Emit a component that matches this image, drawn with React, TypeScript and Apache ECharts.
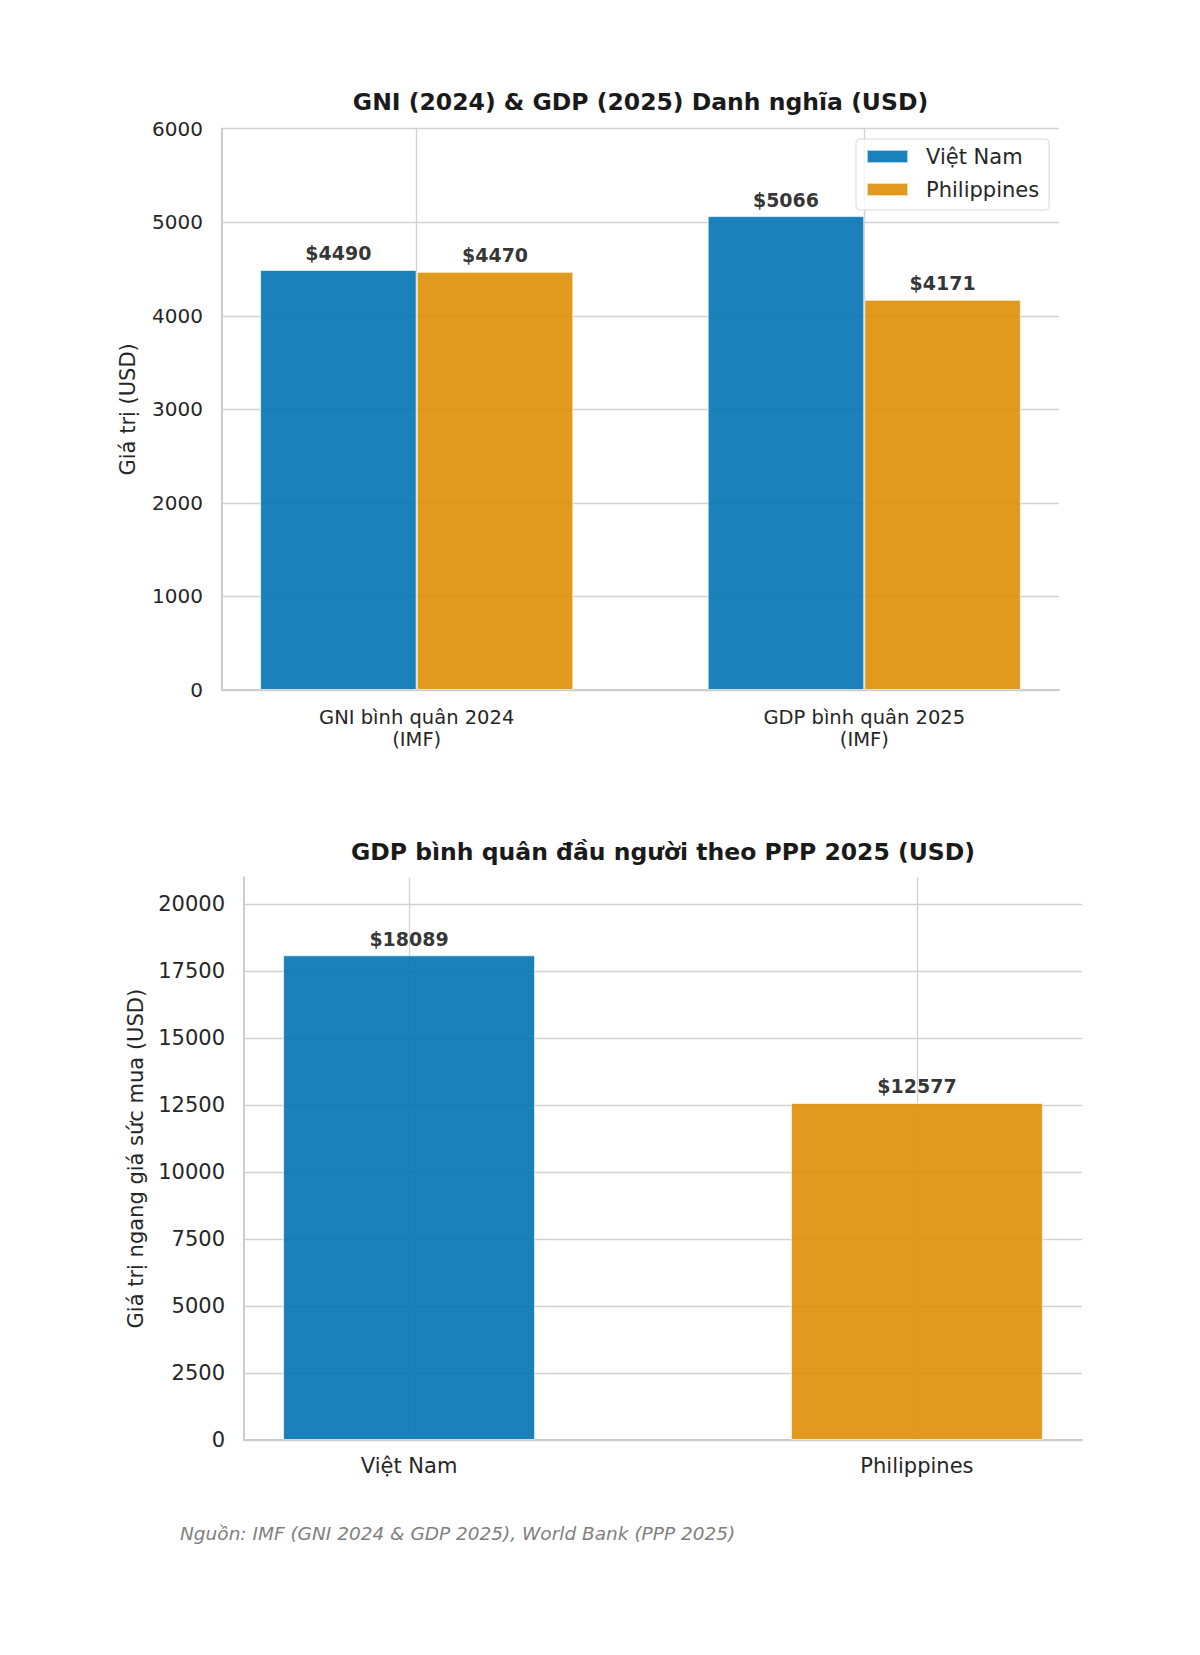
import React, { useEffect, useRef } from "react";
import * as echarts from "echarts";

// ---- data ----
const nominalCategories = ["GNI bình quân 2024\n(IMF)", "GDP bình quân 2025\n(IMF)"];
const countries = ["Việt Nam", "Philippines"];
const vietnamNominal = [4490, 5066];
const philippinesNominal = [4470, 4171];
const nominalTicks = [0, 1000, 2000, 3000, 4000, 5000, 6000];

const pppCategories = ["Việt Nam", "Philippines"];
const pppValues = [18089, 12577];
const pppTicks = [0, 2500, 5000, 7500, 10000, 12500, 15000, 17500, 20000];

const titleNominal = "GNI (2024) & GDP (2025) Danh nghĩa (USD)";
const titlePPP = "GDP bình quân đầu người theo PPP 2025 (USD)";
const yNameNominal = "Giá trị (USD)";
const yNamePPP = "Giá trị ngang giá sức mua (USD)";
const sourceText = "Nguồn: IMF (GNI 2024 & GDP 2025), World Bank (PPP 2025)";

const colors = ["#0173B2", "#DE8F05"];

// ---- styles ----
const FONT = "DejaVu Sans";
const TEXT = "#262626";
const SPINE = "#cccccc";
const GRIDC = "#d2d2d2";

export default function App() {
  const ref = useRef<HTMLDivElement>(null);

  useEffect(() => {
    document.body.style.margin = "0";
    if (!ref.current) return;
    const chart = echarts.init(ref.current, undefined, { renderer: "svg" });

    const groupWidth = 0.35;
    const pppWidth = 0.5;

    const labelStyle = (distance: number) => ({
      show: true,
      position: "top",
      distance,
      formatter: (p: any) => "$" + p.value[1],
      fontFamily: FONT,
      fontWeight: "bold",
      fontSize: 19,
      color: "#1a1a1a",
    });

    const option: any = {
      animation: false,
      backgroundColor: "#ffffff",
      textStyle: { fontFamily: FONT },
      grid: [
        { left: 222, top: 128.7, width: 837, height: 561.3, outerBoundsMode: "none" },
        { left: 244, top: 877.3, width: 838, height: 562.7, outerBoundsMode: "none" },
      ],
      legend: {
        data: countries,
        orient: "vertical",
        left: 856,
        top: 139,
        itemWidth: 41,
        itemHeight: 13,
        itemGap: 12,
        icon: "rect",
        padding: [7, 10, 10, 10],
        borderColor: "#d9d9d9",
        borderWidth: 1,
        borderRadius: 4,
        backgroundColor: "rgba(255,255,255,0.8)",
        textStyle: { fontFamily: FONT, fontSize: 21, color: TEXT, padding: [0, 0, 0, 13] },
      },
      xAxis: [
        {
          gridIndex: 0,
          type: "value",
          min: -0.435,
          max: 1.435,
          axisLine: { show: true, onZero: false, lineStyle: { color: SPINE, width: 2 } },
          axisTick: { show: false, customValues: [0, 1] },
          axisLabel: {
            customValues: [0, 1],
            formatter: (v: number) => nominalCategories[Math.round(v)] ?? "",
            fontFamily: FONT,
            fontSize: 19.5,
            lineHeight: 22,
            margin: 16,
            color: TEXT,
          },
          splitLine: { show: true, lineStyle: { color: GRIDC, width: 1.3 } },
        },
        {
          gridIndex: 1,
          type: "value",
          min: -0.325,
          max: 1.325,
          axisLine: { show: true, onZero: false, lineStyle: { color: SPINE, width: 2 } },
          axisTick: { show: false, customValues: [0, 1] },
          axisLabel: {
            customValues: [0, 1],
            formatter: (v: number) => pppCategories[Math.round(v)] ?? "",
            fontFamily: FONT,
            fontSize: 21,
            margin: 15,
            color: TEXT,
          },
          splitLine: { show: true, lineStyle: { color: GRIDC, width: 1.3 } },
        },
      ],
      yAxis: [
        {
          gridIndex: 0,
          type: "value",
          min: 0,
          max: 6000,
          interval: 1000,
          name: yNameNominal,
          nameLocation: "middle",
          nameGap: 84,
          nameTextStyle: { fontFamily: FONT, fontSize: 21, color: TEXT },
          axisLine: { show: true, onZero: false, lineStyle: { color: SPINE, width: 2 } },
          axisTick: { show: false, customValues: nominalTicks },
          axisLabel: {
            customValues: nominalTicks,
            formatter: (v: number) => String(v),
            fontFamily: FONT,
            fontSize: 20,
            margin: 19,
            color: TEXT,
          },
          splitLine: { show: true, lineStyle: { color: GRIDC, width: 1.3 } },
        },
        {
          gridIndex: 1,
          type: "value",
          min: 0,
          max: 21000,
          name: yNamePPP,
          nameLocation: "middle",
          nameGap: 98,
          nameTextStyle: { fontFamily: FONT, fontSize: 21, color: TEXT },
          axisLine: { show: true, onZero: false, lineStyle: { color: SPINE, width: 2 } },
          axisTick: { show: false, customValues: pppTicks },
          axisLabel: {
            customValues: pppTicks,
            formatter: (v: number) => String(v),
            fontFamily: FONT,
            fontSize: 21,
            margin: 19,
            color: TEXT,
          },
          splitLine: { show: true, lineStyle: { color: GRIDC, width: 1.3 } },
        },
      ],
      series: [
        {
          type: "bar",
          name: countries[0],
          xAxisIndex: 0,
          yAxisIndex: 0,
          barWidth: 156.5,
          barGap: "-100%",
          data: vietnamNominal.map((v, i) => [i - groupWidth / 2, v]),
          itemStyle: { color: colors[0], opacity: 0.9, borderColor: "rgba(255,255,255,0.7)", borderWidth: 1 },
          label: labelStyle(7),
        },
        {
          type: "bar",
          name: countries[1],
          xAxisIndex: 0,
          yAxisIndex: 0,
          barWidth: 156.5,
          barGap: "-100%",
          data: philippinesNominal.map((v, i) => [i + groupWidth / 2, v]),
          itemStyle: { color: colors[1], opacity: 0.9, borderColor: "rgba(255,255,255,0.7)", borderWidth: 1 },
          label: labelStyle(7),
        },
        {
          type: "bar",
          name: "PPP 2025",
          xAxisIndex: 1,
          yAxisIndex: 1,
          barWidth: 0.5 * 507.9 * (pppWidth / 0.5) - 2,
          data: pppValues.map((v, i) => ({
            value: [i, v],
            itemStyle: { color: colors[i] },
          })),
          itemStyle: { opacity: 0.9, borderColor: "rgba(255,255,255,0.7)", borderWidth: 1 },
          label: labelStyle(7),
        },
      ],
      graphic: [
        {
          type: "text",
          x: 640.5,
          y: 101.5,
          style: {
            text: titleNominal,
            fontFamily: FONT,
            fontWeight: "bold",
            fontSize: 23.5,
            fill: "#1a1a1a",
            align: "center",
            verticalAlign: "middle",
          },
        },
        {
          type: "text",
          x: 663,
          y: 852,
          style: {
            text: titlePPP,
            fontFamily: FONT,
            fontWeight: "bold",
            fontSize: 23.5,
            fill: "#1a1a1a",
            align: "center",
            verticalAlign: "middle",
          },
        },
        {
          type: "text",
          x: 180,
          y: 1533,
          style: {
            text: sourceText,
            fontFamily: FONT,
            fontStyle: "italic",
            fontSize: 18.5,
            fill: "#808080",
            align: "left",
            verticalAlign: "middle",
          },
        },
      ],
    };

    chart.setOption(option);
    return () => {
      chart.dispose();
    };
  }, []);

  return <div ref={ref} style={{ width: 1200, height: 1655 }} />;
}
